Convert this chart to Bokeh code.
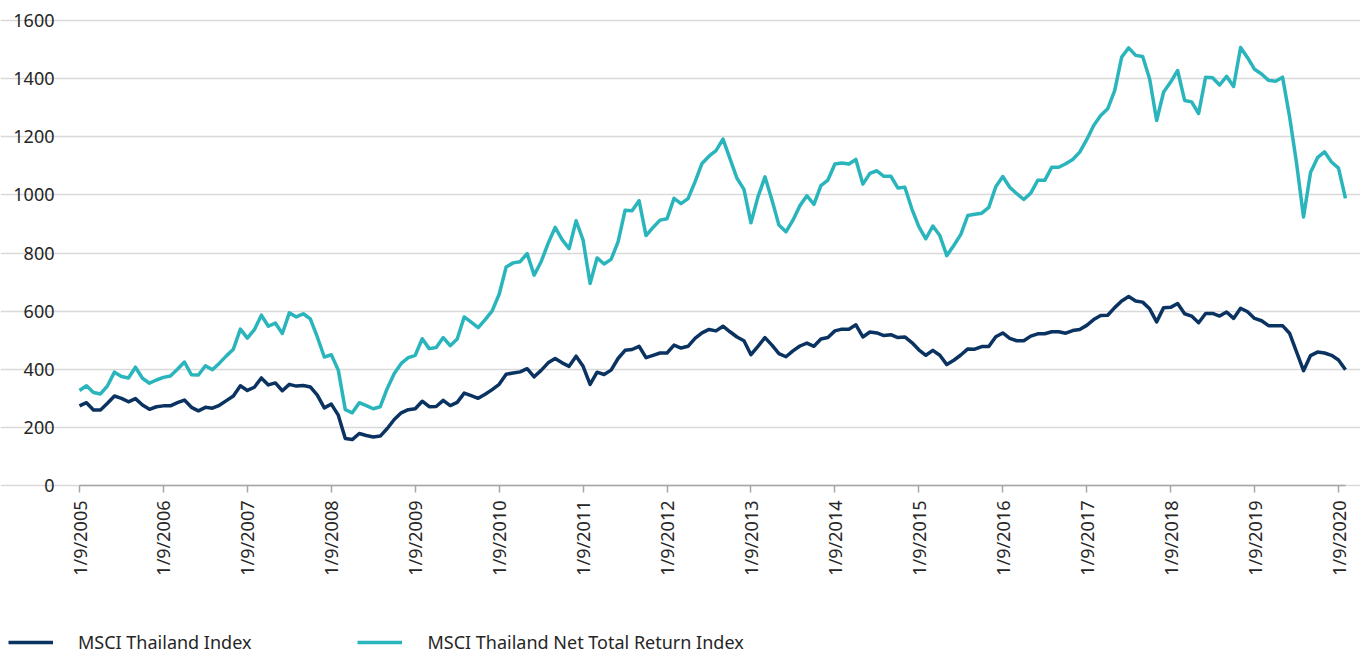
import math
from bokeh.plotting import figure
from bokeh.models import Range1d, FixedTicker, Legend, LegendItem
from bokeh.embed import file_html
from bokeh.resources import INLINE

# Monthly observations, Sep 2005 .. Oct 2020 (category axis, one step per month)
tick_labels = ["1/9/2005", "1/9/2006", "1/9/2007", "1/9/2008", "1/9/2009", "1/9/2010",
               "1/9/2011", "1/9/2012", "1/9/2013", "1/9/2014", "1/9/2015", "1/9/2016",
               "1/9/2017", "1/9/2018", "1/9/2019", "1/9/2020"]

msci_thailand = [
    274, 285, 260, 260, 283, 308, 300, 288, 299, 277, 262, 271, 274, 274, 285, 294, 269, 257, 269, 266,
    276, 292, 308, 343, 327, 338, 370,
    346, 353, 326, 348, 342, 344, 339, 311, 267, 280, 242, 162, 158, 179, 172, 167, 170, 196, 227, 250,
    261, 264, 290, 271,
    272, 293, 275, 286, 318, 309, 300, 314, 330, 348, 383, 387, 391, 402, 374, 396, 422, 437, 422, 410,
    445, 410, 348, 390, 382, 397, 437,
    465, 468, 479, 440, 448, 456, 456, 483, 473, 479, 506, 525, 537, 532, 548, 529, 511, 498, 450, 479,
    509, 483, 454, 443, 463, 480,
    490, 479, 504, 509, 532, 538, 538, 553, 511, 528, 525, 516, 519, 509, 511, 492, 467, 448, 465, 448,
    416, 431, 449, 470, 469,
    478, 478, 512, 525, 506, 498, 498, 514, 522, 522, 529, 529, 524, 533, 537, 551, 571, 585, 586, 612,
    635, 650, 635, 631, 608,
    563, 612, 613, 626, 591, 583, 560, 592, 592, 583, 597, 575, 610, 598, 575, 567, 550, 550, 550, 524,
    460, 395, 447, 459, 456, 448, 432, 398,
]

msci_thailand_ntr = [
    327, 343, 320, 315, 343, 390, 375, 370, 407, 369, 352, 363, 372, 377, 400, 425, 381, 380, 412, 398,
    421, 446, 469, 538, 507, 536, 586,
    548, 559, 523, 594, 580, 591, 573, 511, 442, 450, 397, 261, 250, 285, 275, 264, 271, 334, 385, 420,
    440, 448, 505, 471,
    475, 509, 481, 504, 580, 562, 543, 571, 601, 658, 752, 766, 770, 798, 724, 770, 833, 888, 846, 815,
    911, 844, 695, 783, 762, 778, 838,
    947, 945, 980, 860, 888, 913, 918, 988, 970, 987, 1045, 1108, 1133, 1152, 1192, 1125, 1057, 1019, 904, 993,
    1062, 982, 896, 873, 913, 963,
    997, 967, 1032, 1051, 1106, 1110, 1106, 1122, 1037, 1074, 1083, 1064, 1064, 1024, 1026, 952, 891, 849, 893, 860,
    791, 826, 864, 929, 933,
    937, 957, 1028, 1063, 1026, 1004, 984, 1006, 1050, 1050, 1095, 1095, 1107, 1122, 1147, 1190, 1239, 1273, 1296, 1359,
    1474, 1506, 1480, 1476, 1399,
    1256, 1354, 1388, 1428, 1325, 1320, 1280, 1405, 1403, 1378, 1408, 1373, 1507, 1472, 1432, 1416, 1394, 1391, 1405, 1270,
    1110, 924, 1077, 1128, 1148, 1113, 1092, 988,
]

series_names = ["MSCI Thailand Index", "MSCI Thailand Net Total Return Index"]
y_ticks = [0, 200, 400, 600, 800, 1000, 1200, 1400, 1600]

months = list(range(len(msci_thailand)))
tick_pos = [12 * k for k in range(len(tick_labels))]

NAVY = "#0b3361"
TEAL = "#2ab5bd"
FONT = "Noto Sans"
TXT = "#262626"
FS = "18px"

# Layout geometry (pixels): plot area 79..1345 horizontally, 20..485 vertically
W, H = 1360, 653
PL, PR, PT, PB = 79, 1345, 20, 485
last = len(months) - 1
sx = (PR - PL) / last            # px per month
sy = (PB - PT) / 1600.0          # px per index point

p = figure(width=W, height=H, output_backend="svg", toolbar_location=None,
           x_range=Range1d(-PL / sx, (W - PL) / sx),
           y_range=Range1d(-(H - PB) / sy, PB / sy),
           min_border_left=0, min_border_right=0, min_border_top=0, min_border_bottom=0)
p.outline_line_color = None
p.background_fill_color = "white"

r1 = p.line(months, msci_thailand, line_color=NAVY, line_width=3.5, line_join="round")
r2 = p.line(months, msci_thailand_ntr, line_color=TEAL, line_width=3.5, line_join="round")

# y axis
p.yaxis.fixed_location = 0
p.yaxis.ticker = FixedTicker(ticks=y_ticks)
p.yaxis.axis_line_color = None
p.yaxis.major_tick_line_color = None
p.yaxis.minor_tick_line_color = None
p.yaxis.major_label_standoff = 19
p.yaxis.major_label_text_font = FONT
p.yaxis.major_label_text_font_size = FS
p.yaxis.major_label_text_color = TXT
p.ygrid.ticker = FixedTicker(ticks=y_ticks)
p.ygrid.bounds = (0, last)
p.ygrid.grid_line_color = "#d9d9d9"
p.ygrid.grid_line_width = 1.5

# x axis
p.xgrid.grid_line_color = None
p.xaxis.fixed_location = 0
p.xaxis.bounds = (0, last)
p.xaxis.ticker = FixedTicker(ticks=tick_pos)
p.xaxis.major_label_overrides = {pos: lab for pos, lab in zip(tick_pos, tick_labels)}
p.xaxis.major_label_orientation = math.pi / 2
p.xaxis.axis_line_color = "#a6a6a6"
p.xaxis.axis_line_width = 1.5
p.xaxis.major_tick_line_color = "#a6a6a6"
p.xaxis.major_tick_line_width = 1.5
p.xaxis.major_tick_out = 7
p.xaxis.major_tick_in = 0
p.xaxis.minor_tick_line_color = None
p.xaxis.major_label_standoff = 8
p.xaxis.major_label_text_font = FONT
p.xaxis.major_label_text_font_size = FS
p.xaxis.major_label_text_color = TXT

legend = Legend(items=[LegendItem(label=series_names[0], renderers=[r1]),
                       LegendItem(label=series_names[1], renderers=[r2])],
                orientation="horizontal", location=(8, -1),
                glyph_width=45, glyph_height=20, label_standoff=25, spacing=106,
                padding=0, margin=0, border_line_color=None, background_fill_alpha=0,
                label_text_font=FONT, label_text_font_size=FS, label_text_color=TXT)
p.add_layout(legend, "center")

open("out.html", "w").write(file_html(p, INLINE))
